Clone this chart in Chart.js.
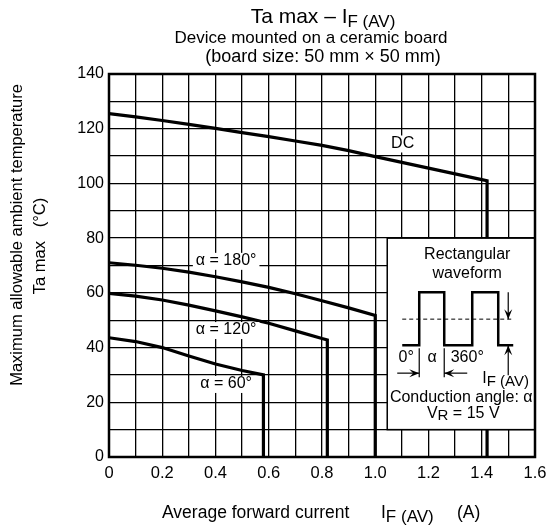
<!DOCTYPE html>
<html>
<head>
<meta charset="utf-8">
<script src="https://cdn.jsdelivr.net/npm/chart.js@4.4.1/dist/chart.umd.min.js"></script>
<style>
html,body{margin:0;padding:0;background:#fff;overflow:hidden}
#wrap{width:547px;height:531px;position:relative}
canvas{display:block}
</style>
</head>
<body>
<div id="wrap"><canvas id="c"></canvas></div>
<script>
// data
const dcX=[0,0.1,0.2,0.3,0.4,0.5,0.6,0.7,0.8,0.9,1.0,1.1,1.2,1.3,1.4,1.42,1.42];
const dcY=[125.5,124.3,123,121.6,120.1,118.6,117.1,115.5,113.9,112,109.8,107.7,105.6,103.5,101.4,101,0];
const a180X=[0,0.1,0.2,0.3,0.4,0.5,0.6,0.7,0.8,0.9,1.0,1.0];
const a180Y=[71,70.1,69,67.6,65.9,64,62,59.7,57.1,54.5,51.7,0];
const a120X=[0,0.1,0.2,0.3,0.4,0.5,0.6,0.7,0.8,0.82,0.82];
const a120Y=[59.8,58.8,57.4,55.5,53.4,51.2,48.9,46.1,43.3,42.8,0];
const a60X=[0,0.1,0.2,0.3,0.4,0.5,0.58,0.58];
const a60Y=[43.6,42.2,40,36.9,34,31.6,30,0];
const seriesNames=["DC","α = 180°","α = 120°","α = 60°"];
const xTicks=[0,0.2,0.4,0.6,0.8,1.0,1.2,1.4,1.6];
const yTicks=[0,20,40,60,80,100,120,140];

// where the curve labels sit (data coords)
const labelPos=[[1.103,114.6],[0.44,71.7],[0.44,46.4],[0.44,26.7]];
const inset={x0:1.045,x1:1.6,y0:10,y1:80};

const FONT='"Liberation Sans", Arial, sans-serif';
const pts=(xs,ys)=>xs.map((x,i)=>({x,y:ys[i]}));

function txt(ctx,s,x,y,size,align){
  ctx.font=size+"px "+FONT; ctx.textAlign=align||"left"; ctx.fillText(s,x,y);
  return ctx.measureText(s).width;
}
// text with a subscript part, centered or left at x
function subText(ctx,parts,x,y,align){
  let w=0;
  parts.forEach(p=>{ctx.font=p[1]+"px "+FONT; w+=ctx.measureText(p[0]).width;});
  let cx=align==="center"?x-w/2:x;
  parts.forEach(p=>{ctx.font=p[1]+"px "+FONT; ctx.textAlign="left"; ctx.fillText(p[0],cx,y+(p[2]||0)); cx+=ctx.measureText(p[0]).width;});
}
function arrow(ctx,x1,y1,x2,y2){
  ctx.beginPath(); ctx.moveTo(x1,y1); ctx.lineTo(x2,y2); ctx.stroke();
  const a=Math.atan2(y2-y1,x2-x1), L=10, W=4;
  ctx.beginPath(); ctx.moveTo(x2,y2);
  ctx.lineTo(x2-L*Math.cos(a)+W*Math.sin(a),y2-L*Math.sin(a)-W*Math.cos(a));
  ctx.lineTo(x2-L*0.6*Math.cos(a),y2-L*0.6*Math.sin(a));
  ctx.lineTo(x2-L*Math.cos(a)-W*Math.sin(a),y2-L*Math.sin(a)+W*Math.cos(a));
  ctx.closePath(); ctx.fill();
}

const decor={
  id:"decor",
  afterDatasetsDraw(chart){
    const ctx=chart.ctx, xs=chart.scales.x, ys=chart.scales.y, ca=chart.chartArea;
    ctx.save(); ctx.fillStyle="#000"; ctx.strokeStyle="#000"; ctx.textBaseline="middle";
    // curve labels on white
    seriesNames.forEach((s,i)=>{
      const px=xs.getPixelForValue(labelPos[i][0]), py=ys.getPixelForValue(labelPos[i][1]);
      ctx.font="16px "+FONT; const w=ctx.measureText(s).width;
      ctx.fillStyle="#fff"; ctx.fillRect(px-w/2-3,py-8,w+6,17);
      ctx.fillStyle="#000"; txt(ctx,s,px,py,16,"center");
    });
    // inset box
    const bx=xs.getPixelForValue(inset.x0), bx1=xs.getPixelForValue(inset.x1);
    const by=ys.getPixelForValue(inset.y1), by1=ys.getPixelForValue(inset.y0);
    ctx.fillStyle="#fff"; ctx.fillRect(bx,by,bx1-bx,by1-by);
    ctx.lineWidth=1.5; ctx.strokeRect(bx,by,bx1-bx,by1-by);
    ctx.fillStyle="#000";
    txt(ctx,"Rectangular",bx+80,by+16,16,"center");
    txt(ctx,"waveform",bx+80,by+35,16,"center");
    ctx.lineWidth=2.5; ctx.lineJoin="miter";
    ctx.beginPath();
    ctx.moveTo(bx+15,by+107); ctx.lineTo(bx+32,by+107); ctx.lineTo(bx+32,by+54); ctx.lineTo(bx+57,by+54);
    ctx.lineTo(bx+57,by+107); ctx.lineTo(bx+85,by+107); ctx.lineTo(bx+85,by+54); ctx.lineTo(bx+111,by+54);
    ctx.lineTo(bx+111,by+107); ctx.lineTo(bx+126,by+107); ctx.stroke();
    ctx.lineWidth=1; ctx.setLineDash([4,3]);
    ctx.beginPath(); ctx.moveTo(bx+15,by+81); ctx.lineTo(bx+126,by+81); ctx.stroke();
    ctx.setLineDash([]); ctx.lineWidth=1.2;
    arrow(ctx,bx+121,by+54,bx+121,by+81);
    arrow(ctx,bx+121,by+137,bx+121,by+107);
    ctx.beginPath(); ctx.moveTo(bx+32,by+110); ctx.lineTo(bx+32,by+139); ctx.moveTo(bx+57,by+110); ctx.lineTo(bx+57,by+139); ctx.stroke();
    arrow(ctx,bx+10,by+135,bx+32,by+135);
    arrow(ctx,bx+80,by+135,bx+57,by+135);
    txt(ctx,"0°",bx+19,by+119,16,"center");
    txt(ctx,"α",bx+45,by+119,16,"center");
    txt(ctx,"360°",bx+80,by+119,16,"center");
    subText(ctx,[["I",16],["F (AV)",15,4]],bx+95,by+140,"left");
    txt(ctx,"Conduction angle: α",bx+74,by+159,16,"center");
    subText(ctx,[["V",16],["R",15,3],[" = 15 V",16]],bx+76,by+175,"center");
    // plot frame
    ctx.lineWidth=2.5; ctx.strokeRect(ca.left,ca.top,ca.right-ca.left,ca.bottom-ca.top);
    // titles
    ctx.textBaseline="alphabetic";
    subText(ctx,[["Ta max – I",21],["F (AV)",17,4]],323,23,"center");
    txt(ctx,"Device mounted on a ceramic board",311,43,17,"center");
    txt(ctx,"(board size: 50 mm × 50 mm)",323,62,18,"center");
    txt(ctx,"Average forward current",162,518,17.5,"left");
    subText(ctx,[["I",17.5],["F (AV)",17,4]],381,518,"left");
    txt(ctx,"(A)",457,518,17.5,"left");
    ctx.save(); ctx.translate(17,235); ctx.rotate(-Math.PI/2); ctx.textBaseline="middle";
    txt(ctx,"Maximum allowable ambient temperature",0,0,16.5,"center"); ctx.restore();
    ctx.save(); ctx.translate(40,246); ctx.rotate(-Math.PI/2); ctx.textBaseline="middle";
    txt(ctx,"Ta max   (°C)",0,0,16.5,"center"); ctx.restore();
    ctx.restore();
  }
};

const lineStyle={borderColor:"#000",borderWidth:3.2,pointRadius:0,tension:0,fill:false,borderJoinStyle:"miter",borderCapStyle:"butt"};
new Chart(document.getElementById("c"),{
  type:"line",
  data:{datasets:[
    {label:seriesNames[0],data:pts(dcX,dcY),...lineStyle},
    {label:seriesNames[1],data:pts(a180X,a180Y),...lineStyle},
    {label:seriesNames[2],data:pts(a120X,a120Y),...lineStyle},
    {label:seriesNames[3],data:pts(a60X,a60Y),...lineStyle}
  ]},
  options:{
    responsive:true,maintainAspectRatio:false,animation:false,
    layout:{padding:{left:0,top:74,right:0,bottom:0}},
    plugins:{legend:{display:false},tooltip:{enabled:false}},
    scales:{
      x:{type:"linear",min:0,max:1.6,
        afterFit:s=>{s.height=74; s.paddingRight=12;},
        ticks:{stepSize:0.1,autoSkip:false,maxRotation:0,padding:7,color:"#000",font:{size:16.5,family:FONT},
          callback:v=>{const r=Math.round(v*10)/10; return xTicks.some(t=>Math.abs(t-r)<1e-6)?(r===0?"0":r.toFixed(1)):"";}},
        grid:{color:"#000",lineWidth:1.3,drawTicks:false},border:{display:false}},
      y:{min:0,max:140,
        afterFit:s=>{s.width=109;},
        ticks:{stepSize:10,autoSkip:false,padding:5,color:"#000",font:{size:16,family:FONT},
          callback:v=>yTicks.includes(v)?String(v):""},
        grid:{color:"#000",lineWidth:1.3,drawTicks:false},border:{display:false}}
    }
  },
  plugins:[decor]
});
</script>
</body>
</html>
